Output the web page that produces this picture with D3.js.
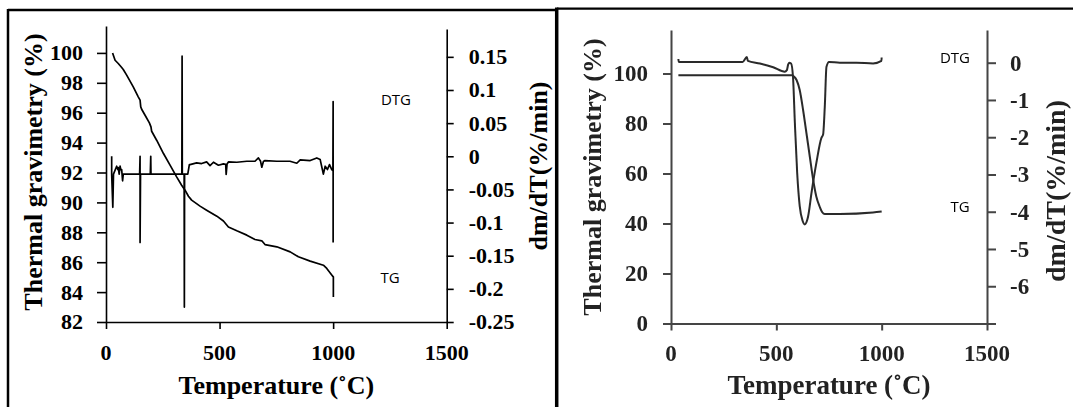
<!DOCTYPE html>
<html>
<meta charset="utf-8">
<style>
body {
	margin: 0;
	background: white;
}
svg {
	display: block;
	background: white;
}
.title {
	font-family: "Liberation Serif", serif;
	font-weight: bold;
}
.curve-label {
	font-family: "Open Sans", sans-serif;
	font-size: 15px;
	fill: black;
}
</style>

<body>
<svg id="fig" width="1073" height="407"></svg>

<script src="https://d3js.org/d3.v7.min.js"></script>

<script>
// ---- shared
var tempTicks = [0, 500, 1000, 1500];

// ---- left panel (a)
var tgTicksA = [82, 84, 86, 88, 90, 92, 94, 96, 98, 100];
var dtgTicksA = [0.15, 0.1, 0.05, 0, -0.05, -0.1, -0.15, -0.2, -0.25];
var dtgTickLabelsA = ["0.15", "0.1", "0.05", "0", "-0.05", "-0.1", "-0.15", "-0.2", "-0.25"];

var tgTempA = [29, 35, 40, 54, 69, 76, 91, 120, 142, 150, 153, 157, 172, 191, 198, 201, 223, 253, 282, 311, 333, 348, 363, 377, 414, 443, 488, 517, 539, 576, 620, 656, 686, 700, 752, 811, 847, 899, 957, 972, 998, 1001, 1001];
var tgValA = [100, 99.73, 99.51, 99.29, 99.02, 98.89, 98.51, 97.73, 97.06, 96.84, 96.39, 96.23, 95.83, 95.32, 95.05, 94.76, 94.16, 93.27, 92.49, 91.71, 91.15, 90.82, 90.41, 90.15, 89.75, 89.48, 89.08, 88.76, 88.36, 88.1, 87.81, 87.52, 87.43, 87.18, 87.03, 86.69, 86.36, 86.07, 85.8, 85.58, 85.06, 85.02, 83.68];

var dtgTempA = [25, 25, 30, 33, 47, 52, 54, 58, 62, 65, 69, 73, 76, 148, 150, 150, 152, 195, 197, 198, 334, 335, 336, 344, 345, 346, 360, 367, 370, 399, 421, 443, 458, 473, 495, 517, 527, 529, 533, 539, 576, 620, 656, 671, 680, 686, 693, 700, 752, 810, 840, 855, 899, 928, 943, 957, 965, 975, 984, 994, 999, 1000, 1000];
var dtgValA = [0, -0.027, -0.077, -0.027, -0.015, -0.02, -0.017, -0.027, -0.015, -0.02, -0.02, -0.037, -0.027, -0.027, 0, -0.13, -0.027, -0.027, 0, -0.027, -0.027, 0.151, -0.027, -0.027, -0.2275, -0.027, -0.027, -0.0125, -0.0125, -0.01, -0.011, -0.0085, -0.014, -0.009, -0.0135, -0.0115, -0.012, -0.0275, -0.0115, -0.0085, -0.009, -0.0075, -0.0075, -0.0025, -0.007, -0.0165, -0.008, -0.0065, -0.0075, -0.0075, -0.0105, -0.0055, -0.0065, -0.0025, -0.005, -0.027, -0.015, -0.02, -0.0125, -0.02, -0.0215, 0.0825, -0.13];

// ---- right panel (b)
var tgTicksB = [0, 20, 40, 60, 80, 100];
var dtgTicksB = [0, -1, -2, -3, -4, -5, -6, -7];
var dtgTickLabelsB = ["0", "-1", "-2", "-3", "-4", "-5", "-6", ""];

var tgTempB = [35, 575, 580, 596, 611, 627, 643, 659, 675, 690, 706, 718, 730, 801, 959, 1000];
var tgValB = [99.3, 99.3, 99, 97.4, 93.4, 85.4, 76.1, 66.7, 57.4, 50.7, 46.7, 44.5, 43.8, 43.8, 44.4, 44.8];

var dtgTempB = [35, 37, 340, 360, 365, 422, 485, 540, 550, 556, 561, 570, 579, 588, 599, 611, 625, 635, 645, 651, 667, 690, 714, 722, 730, 738, 750, 801, 880, 959, 999, 1000];
var dtgValB = [0.1, 0.02, 0.02, 0.15, 0.05, -0.02, -0.12, -0.24, -0.2, -0.05, 0, -0.02, -0.37, -1.62, -2.96, -3.85, -4.25, -4.34, -4.25, -4.12, -3.49, -2.69, -2.02, -1.93, -1.18, -0.11, 0.02, 0, 0, -0.02, 0.05, 0.14];

var svg = d3.select("#fig");

// frames
svg.append("line").attr("x1", 8).attr("y1", 10).attr("x2", 557).attr("y2", 10)
	.attr("stroke", "black").attr("stroke-width", 2.5);
svg.append("line").attr("x1", 8).attr("y1", 9).attr("x2", 8).attr("y2", 407)
	.attr("stroke", "black").attr("stroke-width", 2.5);
svg.append("line").attr("x1", 556.7).attr("y1", 7.5).attr("x2", 556.7).attr("y2", 407)
	.attr("stroke", "black").attr("stroke-width", 3.5);
svg.append("line").attr("x1", 557).attr("y1", 8.7).attr("x2", 1073).attr("y2", 8.7)
	.attr("stroke", "black").attr("stroke-width", 2.2);

function pairs(xs, ys) {
	return xs.map(function(d, i) { return [d, ys[i]]; });
}

// axis lines/ticks from d3, labels as plain text placed with the same scales
function axisLines(a, o) {
	a.selectAll(".tick text").remove();
	a.selectAll("path, line").attr("stroke", o.axisColor).attr("stroke-width", o.axisWidth);
}

function tickLabels(g, vals, labels, xf, yf, anchor, o) {
	g.selectAll(null)
		.data(vals)
		.enter().append("text")
		.attr("class", "title")
		.attr("x", xf)
		.attr("y", yf)
		.attr("dy", "0.34em")
		.attr("text-anchor", anchor)
		.attr("fill", o.textColor)
		.style("font-size", o.tickFont + "px")
		.text(function(d, i) { return labels[i]; });
}

function drawPanel(o) {
	var g = svg.append("g").attr("filter", o.filter || null);
	var x0 = o.x(0), x1 = o.x(1500), yb = o.yL.range()[0];

	var xa = g.append("g")
		.attr("transform", "translate(0," + yb + ")")
		.call(d3.axisBottom(o.x).tickValues(tempTicks).tickSizeInner(7).tickSizeOuter(0));
	axisLines(xa, o);

	var ya = g.append("g")
		.attr("transform", "translate(" + x0 + ",0)")
		.call(d3.axisLeft(o.yL).tickValues(o.tgTicks).tickSizeInner(o.leftTick).tickSizeOuter(0));
	axisLines(ya, o);

	var ra = g.append("g")
		.attr("transform", "translate(" + x1 + ",0)")
		.call(d3.axisRight(o.yR).tickValues(o.dtgTicks).tickSizeInner(o.rightTick).tickSizeOuter(0));
	axisLines(ra, o);

	tickLabels(g, tempTicks, tempTicks.map(String),
		function(d) { return o.x(d); }, o.xLabelY, "middle", o);
	tickLabels(g, o.tgTicks, o.tgTicks.map(String),
		x0 - o.leftTick - o.leftPad, function(d) { return o.yL(d); }, "end", o);
	tickLabels(g, o.dtgTicks, o.dtgLabels,
		x1 + o.rightTick + o.rightPad, function(d) { return o.yR(d); }, "start", o);

	var lineTG = d3.line()
		.x(function(d) { return o.x(d[0]); })
		.y(function(d) { return o.yL(d[1]); })
		.curve(o.curve);
	var lineDTG = d3.line()
		.x(function(d) { return o.x(d[0]); })
		.y(function(d) { return o.yR(d[1]); })
		.curve(o.curve);

	g.append("path")
		.datum(pairs(o.dtgT, o.dtgV))
		.attr("d", lineDTG)
		.attr("fill", "none")
		.attr("stroke", o.lineColor)
		.attr("stroke-width", o.lineWidth)
		.attr("stroke-linejoin", "round");

	g.append("path")
		.datum(pairs(o.tgT, o.tgV))
		.attr("d", lineTG)
		.attr("fill", "none")
		.attr("stroke", o.lineColor)
		.attr("stroke-width", o.lineWidth)
		.attr("stroke-linejoin", "round");

	// titles
	g.append("text")
		.attr("class", "title")
		.attr("x", (x0 + x1) / 2)
		.attr("y", o.xTitleY)
		.attr("dy", "0.34em")
		.attr("text-anchor", "middle")
		.attr("fill", o.textColor)
		.style("font-size", o.xTitleFont + "px")
		.text(o.xTitle);

	g.append("text")
		.attr("class", "title")
		.attr("transform", "translate(" + o.yTitleX + "," + o.yTitleY + ") rotate(-90)")
		.attr("dy", "0.34em")
		.attr("text-anchor", "middle")
		.attr("fill", o.textColor)
		.style("font-size", "26px")
		.text("Thermal gravimetry (%)");

	g.append("text")
		.attr("class", "title")
		.attr("transform", "translate(" + o.rTitleX + "," + o.rTitleY + ") rotate(-90)")
		.attr("dy", "0.34em")
		.attr("text-anchor", "middle")
		.attr("fill", o.textColor)
		.style("font-size", o.rTitleFont + "px")
		.text("dm/dT(%/min)");

	// curve labels
	g.append("text").attr("class", "curve-label")
		.attr("x", o.dtgLabel[0]).attr("y", o.dtgLabel[1]).attr("dy", "0.35em")
		.attr("text-anchor", "middle").text("DTG");
	g.append("text").attr("class", "curve-label")
		.attr("x", o.tgLabel[0]).attr("y", o.tgLabel[1]).attr("dy", "0.35em")
		.attr("text-anchor", "middle").text("TG");
}

drawPanel({
	x: d3.scaleLinear().domain([0, 1500]).range([106, 446.7]),
	yL: d3.scaleLinear().domain([82, 101.8]).range([322, 26]),
	yR: d3.scaleLinear().domain([-0.25, 0.192]).range([322, 29]),
	tgTicks: tgTicksA, dtgTicks: dtgTicksA, dtgLabels: dtgTickLabelsA,
	tgT: tgTempA, tgV: tgValA, dtgT: dtgTempA, dtgV: dtgValA,
	curve: d3.curveLinear,
	leftTick: 9, rightTick: 7, leftPad: 14, rightPad: 15, xLabelY: 353,
	axisColor: "black", axisWidth: 1.6, textColor: "black",
	lineColor: "black", lineWidth: 1.7, tickFont: 22,
	xTitle: "Temperature (\u02DAC)", xTitleY: 385, xTitleFont: 26,
	yTitleX: 33, yTitleY: 172,
	rTitleX: 538, rTitleY: 166, rTitleFont: 26,
	dtgLabel: [396, 100], tgLabel: [390, 278]
});

// soft edge for the scanned right panel
var defs = svg.append("defs");
defs.append("filter").attr("id", "soft")
	.append("feGaussianBlur").attr("stdDeviation", 0.55);

drawPanel({
	x: d3.scaleLinear().domain([0, 1500]).range([671, 987]),
	yL: d3.scaleLinear().domain([0, 117.4]).range([323.5, 30]),
	yR: d3.scaleLinear().domain([-7, 0.878]).range([323.5, 30]),
	tgTicks: tgTicksB, dtgTicks: dtgTicksB, dtgLabels: dtgTickLabelsB,
	tgT: tgTempB, tgV: tgValB, dtgT: dtgTempB, dtgV: dtgValB,
	curve: d3.curveMonotoneX,
	leftTick: 8, rightTick: 9, leftPad: 15, rightPad: 14, xLabelY: 353,
	axisColor: "#444", axisWidth: 2, textColor: "#222",
	lineColor: "#2a2a2a", lineWidth: 2, tickFont: 23,
	xTitle: "Temperature (\u02DAC)", xTitleY: 385, xTitleFont: 27,
	yTitleX: 592, yTitleY: 177,
	rTitleX: 1055, rTitleY: 191, rTitleFont: 28,
	dtgLabel: [955, 58], tgLabel: [960, 207],
	filter: "url(#soft)"
});
</script>
</body>
</html>
